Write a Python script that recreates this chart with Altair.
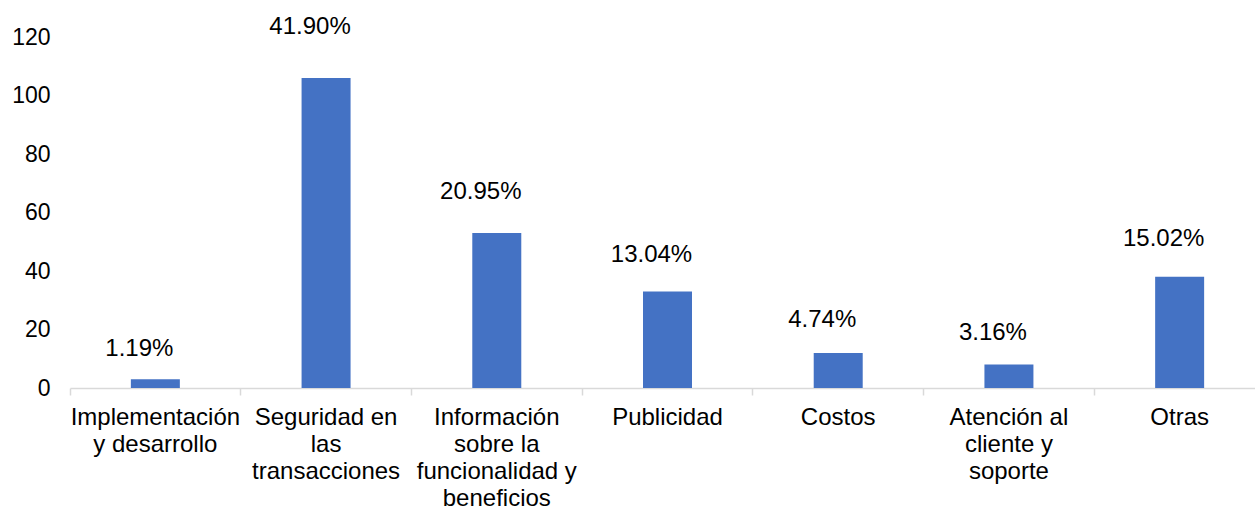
import altair as alt
import pandas as pd

categories = [
    "Implementación y desarrollo",
    "Seguridad en las transacciones",
    "Información sobre la funcionalidad y beneficios",
    "Publicidad",
    "Costos",
    "Atención al cliente y soporte",
    "Otras",
]
wrapped = [
    ["Implementación", "y desarrollo"],
    ["Seguridad en", "las", "transacciones"],
    ["Información", "sobre la", "funcionalidad y", "beneficios"],
    ["Publicidad"],
    ["Costos"],
    ["Atención al", "cliente y", "soporte"],
    ["Otras"],
]
counts = [3, 106, 53, 33, 12, 8, 38]
percents = ["1.19%", "41.90%", "20.95%", "13.04%", "4.74%", "3.16%", "15.02%"]
y_ticks = [0, 20, 40, 60, 80, 100, 120]

df = pd.DataFrame({"cat": categories, "n": counts, "pct": percents})

FONT = "Liberation Sans"
FS = 24

# label expression built from the wrapped lines
parts = []
for c, w in zip(categories, wrapped):
    arr = "[" + ",".join("'" + s + "'" for s in w) + "]"
    parts.append(f"datum.value == '{c}' ? {arr}")
label_expr = " : ".join(parts) + " : datum.value"

x = alt.X(
    "cat:N",
    sort=categories,
    title=None,
    scale=alt.Scale(paddingInner=0, paddingOuter=0, range=[0, 1195]),
    axis=alt.Axis(
        labelExpr=label_expr,
        labelAngle=0,
        labelFont=FONT,
        labelFontSize=FS,
        labelColor="#000000",
        labelLineHeight=27,
        labelBaseline="top",
        labelPadding=10,
        tickSize=7,
        tickColor="#d9d9d9",
        tickWidth=1.5,
        bandPosition=0,
        domainColor="#d9d9d9",
        domainWidth=1.5,
        grid=False,
        labelLimit=300,
    ),
)

y_scale = alt.Scale(domain=[0, 120], nice=False)

bars = alt.Chart(df).mark_bar(color="#4472C4", width={"band": 0.287}).encode(
    x=x,
    y=alt.Y(
        "n:Q",
        title=None,
        scale=y_scale,
        axis=alt.Axis(
            values=y_ticks,
            labelFont=FONT,
            labelFontSize=23,
            labelColor="#000000",
            labelPadding=20,
            ticks=False,
            domain=False,
            grid=False,
        ),
    ),
)

labels = alt.Chart(df).transform_calculate(
    ly="datum.n * 1.068 + 10.3"
).mark_text(font=FONT, fontSize=FS, color="#000000", baseline="middle", dx=-16).encode(
    x=alt.X("cat:N", sort=categories),
    y=alt.Y("ly:Q", scale=y_scale),
    text="pct:N",
)

chart = (
    alt.layer(bars, labels)
    .properties(
        width=1185,
        height=351,
        padding={"left": 70, "top": 37, "right": 0, "bottom": 122},
        autosize="none",
    )
    .configure_view(stroke=None)
)

chart.save("out.html", embed_options={"renderer": "svg", "actions": False})
